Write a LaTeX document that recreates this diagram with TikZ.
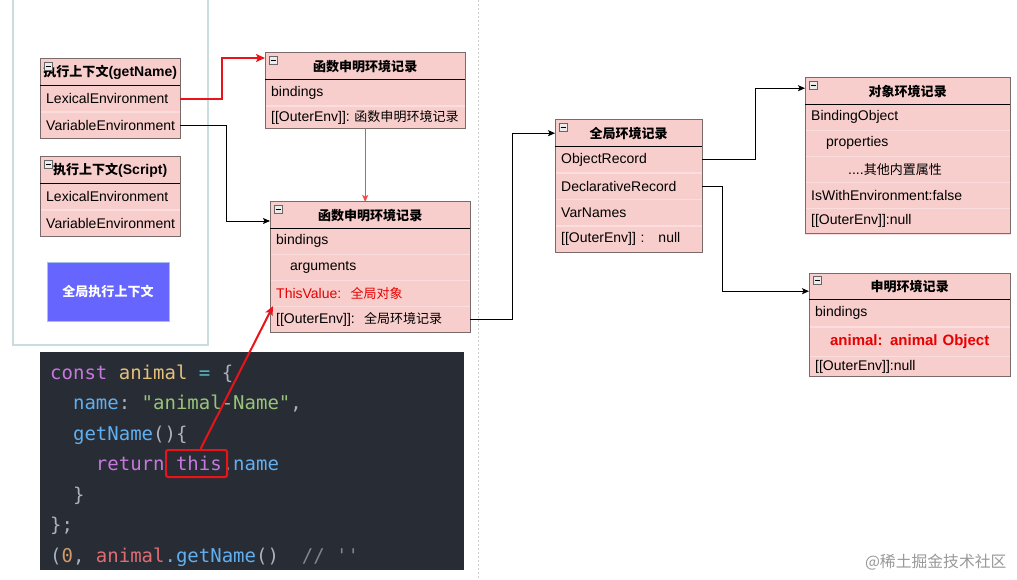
\documentclass[tikz,border=0pt]{standalone}
\usepackage{fontspec}
\setmainfont{Liberation Sans}
\setmonofont{DejaVu Sans Mono}
\newfontfamily\cjk[Scale=0.93]{Noto Sans CJK SC}
\usepackage{tikz}
\usetikzlibrary{arrows.meta,positioning}

\definecolor{recfill}{HTML}{F8CECC}
\definecolor{recline}{HTML}{7A6A6A}
\definecolor{rowline}{HTML}{FADDDC}
\definecolor{linkred}{HTML}{E8141A}
\definecolor{thinred}{HTML}{F04E4E}
\definecolor{valred}{HTML}{E60000}
\definecolor{ctxblue}{HTML}{6666FF}
\definecolor{ctxline}{HTML}{A9C0EE}
\definecolor{panel}{HTML}{CADCDC}
\definecolor{codebg}{HTML}{282C34}
\definecolor{ckw}{HTML}{C678DD}
\definecolor{cvar}{HTML}{E5C07B}
\definecolor{cop}{HTML}{56B6C2}
\definecolor{cpl}{HTML}{ABB2BF}
\definecolor{cprop}{HTML}{61AFEF}
\definecolor{cstr}{HTML}{98C379}
\definecolor{cnum}{HTML}{D19A66}
\definecolor{cred}{HTML}{E06C75}
\definecolor{ccm}{HTML}{7F848E}

\tikzset{
  hdr/.style={fill=recfill, anchor=north west, minimum width=#1, minimum height=26, inner sep=0,
    font=\bfseries\fontsize{14}{16}\selectfont},
  row/.style={draw=rowline, fill=recfill, minimum height=26, inner xsep=6, inner ysep=0,
    text width=#1, align=left, font=\fontsize{14}{16}\selectfont},
  boxline/.style={draw=recline, line width=1pt},
  redlink/.style={draw=linkred, line width=2pt, -{Stealth[length=9pt,width=8pt,inset=2pt]}},
  blklink/.style={draw=black, line width=0.9pt, -{Stealth[length=7pt,width=6pt,inset=1.5pt]}},
  redthin/.style={draw=thinred, line width=1pt, -{Stealth[length=7pt,width=6pt,inset=1.5pt]}},
  codeln/.style={anchor=base west, inner sep=0, text=cpl, font=\ttfamily\fontsize{19}{23}\selectfont}
}

\begin{document}
\begin{tikzpicture}[x=1pt,y=-1pt]
  \path[fill=white,use as bounding box] (0,0) rectangle (1017,580);

  \draw[panel, line width=1.2pt] (13,0) -- (13,345) -- (208,345) -- (208,0);
  \draw[black!20, dash pattern=on 2pt off 2pt] (478,0) -- (478,580);

  \node[hdr=140] (ecA) at (40,59) {{\cjk 执行上下文}(getName)};
  \node[row=128pt, below=0pt of ecA] (ecAlex) {LexicalEnvironment};
  \node[row=128pt, below=0pt of ecAlex] (ecAvar) {VariableEnvironment};

  \node[hdr=140] (ecB) at (40,157) {{\cjk 执行上下文}(Script)};
  \node[row=128pt, below=0pt of ecB] (ecBlex) {LexicalEnvironment};
  \node[row=128pt, below=0pt of ecBlex] (ecBvar) {VariableEnvironment};

  \node[fill=ctxblue, draw=ctxline, minimum width=122, minimum height=59, text=white,
    font=\bfseries\fontsize{14}{16}\selectfont] (gctx) at (108,291.5) {\cjk 全局执行上下文};

  \node[hdr=200] (fA) at (265,53) {\cjk 函数申明环境记录};
  \node[row=188pt, below=0pt of fA] (fAbind) {bindings};
  \node[row=188pt, below=0pt of fAbind, minimum height=22] (fAouter) {[[OuterEnv]]:~{\cjk 函数申明环境记录}};

  \node[hdr=200] (fB) at (270,202) {\cjk 函数申明环境记录};
  \node[row=188pt, below=0pt of fB, minimum height=25.5] (fBbind) {bindings};
  \node[row=188pt, below=0pt of fBbind, minimum height=25.5] (fBargs) {\hspace*{14pt}arguments};
  \node[row=188pt, below=0pt of fBargs, minimum height=25.5, text=valred] (fBthis) {ThisValue:~~{\cjk 全局对象}};
  \node[row=188pt, below=0pt of fBthis, minimum height=25.5] (fBouter) {[[OuterEnv]]:~~{\cjk 全局环境记录}};

  \node[hdr=147] (gR) at (555,120) {\cjk 全局环境记录};
  \node[row=135pt, below=0pt of gR] (gRobj) {ObjectRecord};
  \node[row=135pt, below=0pt of gRobj] (gRdecl) {DeclarativeRecord};
  \node[row=135pt, below=0pt of gRdecl] (gRvar) {VarNames};
  \node[row=135pt, below=0pt of gRvar] (gRouter) {[[OuterEnv]]~:~~~null};

  \node[hdr=205] (oR) at (805,78) {\cjk 对象环境记录};
  \node[row=193pt, below=0pt of oR, minimum height=25.5] (oRbind) {BindingObject};
  \node[row=193pt, below=0pt of oRbind, minimum height=25.5] (oRprop) {\hspace*{15pt}properties};
  \node[row=193pt, below=0pt of oRprop, minimum height=25.5] (oRother) {\hspace*{37pt}....{\cjk 其他内置属性}};
  \node[row=193pt, below=0pt of oRother, minimum height=25.5] (oRwith) {IsWithEnvironment:false};
  \node[row=193pt, below=0pt of oRwith, minimum height=25.5] (oRouter) {[[OuterEnv]]:null};

  \node[hdr=201] (dR) at (809,273) {\cjk 申明环境记录};
  \node[row=189pt, below=0pt of dR, minimum height=27] (dRbind) {bindings};
  \node[row=189pt, below=0pt of dRbind, minimum height=29, align=center, text=valred,
    font=\bfseries\fontsize{15}{17}\selectfont] (dRanimal) {animal: animal Object};
  \node[row=189pt, below=0pt of dRanimal, minimum height=20] (dRouter) {[[OuterEnv]]:null};

  \foreach \h/\l in {ecA/ecAvar, ecB/ecBvar, fA/fAouter, fB/fBouter, gR/gRouter, oR/oRouter, dR/dRouter} {
    \draw[boxline] (\h.north west) rectangle (\l.south east);
    \draw[black, line width=1pt] (\h.south west) -- (\h.south east);
    \draw[black!60, fill=black!8, line width=0.6pt] ([shift={(4,3)}]\h.north west) rectangle ++(8,8);
    \draw[black, line width=0.8pt] ([shift={(5.5,7)}]\h.north west) -- ++(5,0);
  }

  \node[fill=codebg, minimum width=424, minimum height=218, inner sep=0] (code) at (252,461) {};
  \node[codeln] (c1) at (50,379) {\textcolor{ckw}{const} \textcolor{cvar}{animal} \textcolor{cop}{=} \{};
  \node[codeln] (c2) at (50,409.5) {\hphantom{xx}\textcolor{cprop}{name}: \textcolor{cstr}{\symbol{34}animal-Name\symbol{34}},};
  \node[codeln] (c3) at (50,440) {\hphantom{xx}\textcolor{cprop}{getName}()\{};
  \node[codeln] (c4) at (50,470.5) {\hphantom{xxxx}\textcolor{ckw}{return this}.\textcolor{cprop}{name}};
  \node[codeln] (c5) at (50,501) {\hphantom{xx}\}};
  \node[codeln] (c6) at (50,531.5) {\};};
  \node[codeln] (c7) at (50,562) {(\textcolor{cnum}{0}, \textcolor{cred}{animal}\textcolor{cprop}{.getName}()\ \ \textcolor{ccm}{// \symbol{39}\symbol{39}}};
  \node[draw=linkred, line width=2pt, rounded corners=2pt, minimum width=61, minimum height=27] (thisb) at (196.5,463.5) {};

  \draw[redlink] (ecAlex.east) -- ++(42,0) |- ([yshift=-5pt]fA.north west);
  \draw[blklink] (ecAvar.east) -- ++(46,0) |- ([yshift=-19pt]fB.north west);
  \draw[redthin] (fAouter.south) -- (fAouter.south |- fB.north);
  \draw[redlink] ([xshift=4pt]thisb.north) -- ([xshift=3pt]fBthis.south west);
  \draw[blklink] (fBouter.east) -- ++(42,0) |- (gR.west);
  \draw[blklink] (gRobj.east) -- ++(53,0) |- ([yshift=3pt]oR.west);
  \draw[blklink] (gRdecl.east) -- ++(20,0) |- ([yshift=-5pt]dR.west);

  \node[anchor=east, text=black!40, font=\cjk\fontsize{17}{19}\selectfont] (wm) at (1010,562) {@稀土掘金技术社区};
\end{tikzpicture}
\end{document}
